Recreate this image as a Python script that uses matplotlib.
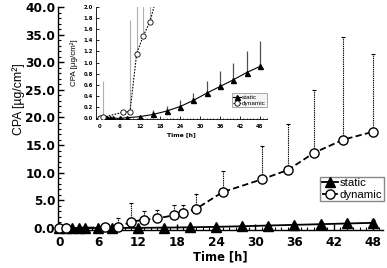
import numpy as np
import matplotlib
matplotlib.use("Agg")
import matplotlib.pyplot as plt
from matplotlib.ticker import MultipleLocator, FormatStrFormatter

# ---- data ----
t_static = [0, 1, 2, 3, 4, 6, 8, 12, 16, 20, 24, 28, 32, 36, 40, 44, 48]
cpa_static = [0.0, 0.0, 0.0, 0.0, 0.0, 0.0, 0.01, 0.03, 0.07, 0.13, 0.21, 0.32, 0.45, 0.57, 0.69, 0.82, 0.93]
sd_static = [0.0, 0.0, 0.0, 0.0, 0.0, 0.0, 0.01, 0.03, 0.08, 0.09, 0.11, 0.14, 0.21, 0.27, 0.31, 0.39, 0.46]

t_dynamic = [0, 1, 7, 9, 11, 13, 15, 17.5, 19, 21, 25, 31, 35, 39, 43.5, 48]
cpa_dynamic = [0.01, 0.02, 0.11, 0.12, 1.16, 1.48, 1.73, 2.3, 2.7, 3.5, 6.5, 8.8, 10.5, 13.6, 16.0, 17.4]
sd_dynamic = [0.0, 0.64, 0.0, 1.64, 3.44, 1.62, 1.57, 1.8, 1.5, 2.7, 3.9, 6.1, 8.3, 11.4, 18.5, 14.1]

x_ticks = [0, 6, 12, 18, 24, 30, 36, 42, 48]
legend_labels = ["static", "dynamic"]
xlabel = "Time [h]"
ylabel = "CPA [µg/cm²]"

W, H = 387, 268
fig = plt.figure(figsize=(W / 100, H / 100), dpi=100)

def rect(l, t, r, b):
    return [l / W, 1 - b / H, (r - l) / W, (b - t) / H]

bold_font = "DejaVu Sans"
label_font = "Liberation Sans"

# ---------------- main axes ----------------
ax = fig.add_axes(rect(58, 5, 383, 229.5))
ax.set_xlim(-0.2, 49.57)
ax.set_ylim(-0.27, 40.36)
for s in ["top", "right"]:
    ax.spines[s].set_visible(False)
for s in ["left", "bottom"]:
    ax.spines[s].set_linewidth(1.0)
ax.spines["left"].set_bounds(-0.27, 40)

eb = ax.errorbar(t_dynamic, cpa_dynamic, yerr=[np.zeros(len(sd_dynamic)), sd_dynamic],
                 fmt="none", ecolor="black", elinewidth=0.8, capsize=1.1, capthick=0.8, zorder=2)
for lc in eb[2]:
    lc.set_linestyle((0, (1.2, 0.8)))
ax.errorbar(t_static, cpa_static, yerr=[np.zeros(len(sd_static)), sd_static],
            fmt="none", ecolor="black", elinewidth=0.8, capsize=1.1, zorder=2)

ax.plot(t_static, cpa_static, color="black", lw=1.3, marker="^", ms=7,
        mfc="black", mec="black", zorder=4, clip_on=False, label=legend_labels[0])
ax.plot(t_dynamic, cpa_dynamic, color="black", lw=1.3, ls=(0, (3.5, 1.8)), marker="o", ms=6.6,
        mfc="white", mec="black", mew=1.0, zorder=5, clip_on=False, label=legend_labels[1])

ax.set_xticks(x_ticks)
ax.xaxis.set_minor_locator(MultipleLocator(1))
ax.yaxis.set_major_locator(MultipleLocator(5))
ax.yaxis.set_minor_locator(MultipleLocator(1))
ax.yaxis.set_major_formatter(FormatStrFormatter("%.1f"))
ax.tick_params(axis="both", which="major", direction="in", length=4, width=1.0)
ax.tick_params(axis="both", which="minor", direction="in", length=2, width=0.8)
ax.tick_params(axis="x", which="major", pad=5)
ax.tick_params(axis="y", which="major", pad=2)
for lab in ax.get_xticklabels() + ax.get_yticklabels():
    lab.set_fontfamily(bold_font)
    lab.set_fontweight("bold")
    lab.set_fontsize(8.7)

ax.set_xlabel(xlabel, fontfamily=bold_font, fontweight="bold", fontsize=8.3, labelpad=1)
ax.set_ylabel(ylabel, fontfamily=label_font, fontsize=8.8)
ax.yaxis.set_label_coords((25 - 58) / 325, (229.5 - 99) / 224.5)

leg = ax.legend(loc="upper left", bbox_to_anchor=((320 - 58) / (383 - 58), 1 - (176.7 - 5) / (229.5 - 5)),
                prop={"family": label_font, "size": 8.2}, frameon=True, fancybox=False,
                edgecolor="#888888", framealpha=1, handlelength=1.4, handletextpad=0.2,
                borderpad=0.15, labelspacing=0.12, borderaxespad=0)
leg.get_frame().set_linewidth(1.0)

# ---------------- inset axes ----------------
ax2 = fig.add_axes(rect(96, 6.7, 267, 119.5))
ax2.set_facecolor("none")
ax2.set_xlim(-1.2, 50.1)
ax2.set_ylim(-0.0215, 2.0)
for s in ["top", "right"]:
    ax2.spines[s].set_visible(False)
for s in ["left", "bottom"]:
    ax2.spines[s].set_linewidth(0.6)

ax2.errorbar(t_dynamic, cpa_dynamic, yerr=[np.zeros(len(sd_dynamic)), sd_dynamic],
             fmt="none", ecolor="#b0b0b0", elinewidth=0.8, capsize=0, zorder=2)
ax2.errorbar(t_static, cpa_static, yerr=[np.zeros(len(sd_static)), sd_static],
             fmt="none", ecolor="#505050", elinewidth=0.9, capsize=0, zorder=2)
ax2.plot(t_static, cpa_static, color="black", lw=0.8, marker="^", ms=3.6,
         mfc="black", mec="black", zorder=4, clip_on=True, label=legend_labels[0])
ax2.plot(t_dynamic, cpa_dynamic, color="black", lw=0.8, ls=(0, (1.5, 1.2)), marker="o", ms=3.8,
         mfc="white", mec="black", mew=0.6, zorder=5, clip_on=True, label=legend_labels[1])

ax2.set_xticks(x_ticks)
ax2.xaxis.set_minor_locator(MultipleLocator(1))
ax2.yaxis.set_major_locator(MultipleLocator(0.2))
ax2.yaxis.set_major_formatter(FormatStrFormatter("%.1f"))
ax2.tick_params(axis="both", which="major", direction="in", length=2, width=0.6, pad=2)
ax2.tick_params(axis="x", which="major", pad=3)
ax2.tick_params(axis="both", which="minor", direction="in", length=1, width=0.5)
for lab in ax2.get_xticklabels() + ax2.get_yticklabels():
    lab.set_fontfamily(bold_font)
    lab.set_fontweight("bold")
    lab.set_fontsize(3.8)
ax2.set_xlabel(xlabel, fontfamily=bold_font, fontweight="bold", fontsize=4.4, labelpad=2.5)
ax2.set_ylabel(ylabel, fontfamily=label_font, fontsize=5.8, labelpad=4)

leg2 = ax2.legend(loc="upper left", bbox_to_anchor=((232 - 96) / (267 - 96), 1 - (93.3 - 6.7) / (119.5 - 6.7)),
                  prop={"family": label_font, "size": 4.6}, frameon=True, fancybox=False,
                  edgecolor="#999999", framealpha=1, facecolor="#f4f4f4", handlelength=1.2,
                  handletextpad=0.2, borderpad=0.2, labelspacing=0.1, borderaxespad=0)
leg2.get_frame().set_linewidth(0.6)

fig.savefig("out.png", dpi=100)
